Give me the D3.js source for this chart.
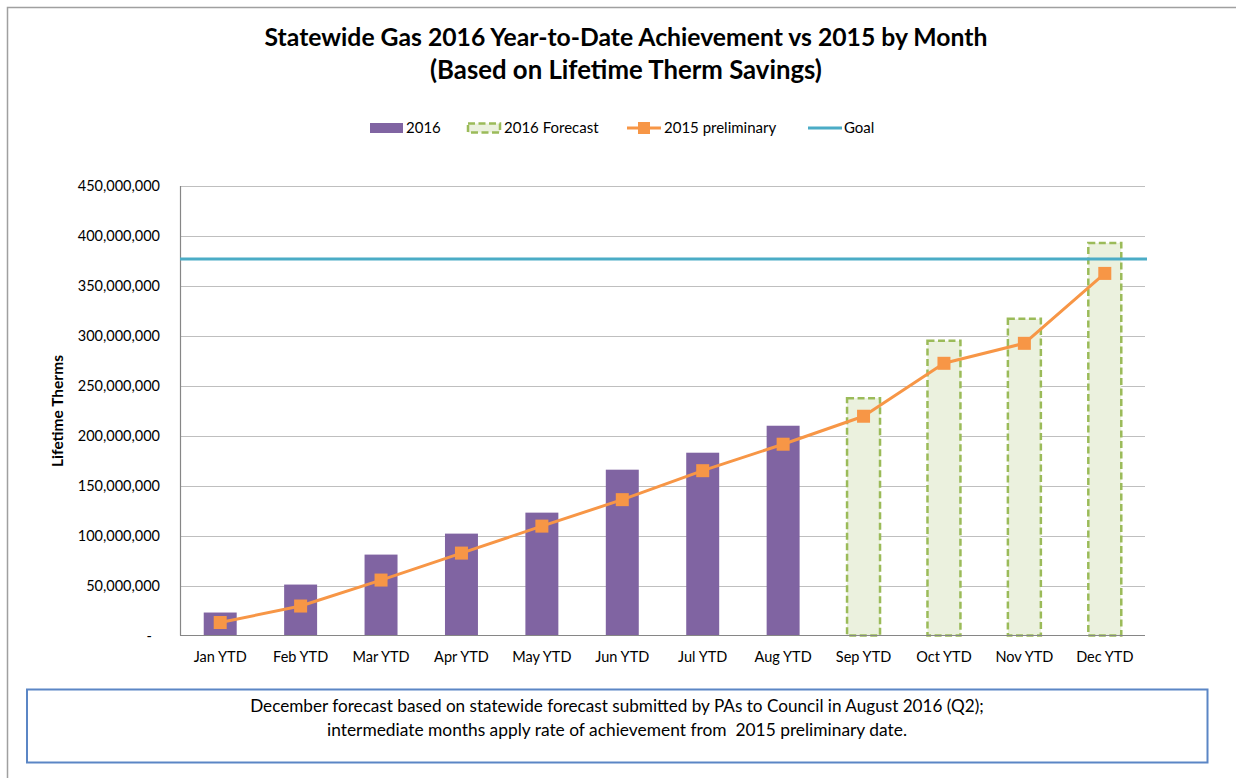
<!DOCTYPE html>
<html>
<head>
<meta charset="utf-8">
<script src="https://cdn.jsdelivr.net/npm/d3@7"></script>
<style>
  html, body { margin: 0; padding: 0; background: #fff; }
  svg { display: block; font-family: Lato, "Open Sans", sans-serif; }
  text { white-space: pre; }
</style>
</head>
<body>
<svg id="chart" width="1236" height="778"></svg>
<script>
// ---- data ----
const categories = ["Jan YTD","Feb YTD","Mar YTD","Apr YTD","May YTD","Jun YTD","Jul YTD","Aug YTD","Sep YTD","Oct YTD","Nov YTD","Dec YTD"];
const actual2016 = [23000000, 51000000, 81000000, 102000000, 123000000, 166000000, 183000000, 210000000, null, null, null, null];
const forecast2016 = [null, null, null, null, null, null, null, null, 237500000, 295000000, 317000000, 393000000];
const prelim2015 = [13000000, 29500000, 55500000, 82500000, 109500000, 136000000, 165000000, 191500000, 219500000, 272500000, 292500000, 362500000];
const goalValue = 377000000;
const yTicks = [0, 50000000, 100000000, 150000000, 200000000, 250000000, 300000000, 350000000, 400000000, 450000000];
const titleLines = ["Statewide Gas 2016 Year-to-Date Achievement vs 2015 by Month", "(Based on Lifetime Therm Savings)"];
const legendLabels = ["2016", "2016 Forecast", "2015 preliminary", "Goal"];
const yAxisTitle = "Lifetime Therms";
const footnoteLines = ["December forecast based on statewide forecast submitted by PAs to Council in August 2016 (Q2);", "intermediate months apply rate of achievement from  2015 preliminary date."];

// ---- styles ----
const C = { purple: "#8064A2", green: "#9BBB59", greenFill: "#EBF1DE", orange: "#F79646", goal: "#4BACC6", grid: "#BFBFBF", axis: "#868686", text: "#000" };

const svg = d3.select("#chart");
const plot = { left: 180, right: 1145, top: 186, bottom: 635.5 };

function fitWidth(sel, target) {
  const node = sel.node();
  const fs = parseFloat(sel.attr("font-size"));
  const w = node.getComputedTextLength();
  sel.attr("font-size", (fs * target / w).toFixed(2));
}

// outer frame (left & top)
svg.append("path").attr("d", "M7.5,778 V7.5 H1236").attr("fill", "none").attr("stroke", "#A0A0A0").attr("stroke-width", 1.5);

// title
const t1 = svg.append("text").attr("x", 626).attr("y", 46).attr("text-anchor", "middle").attr("font-weight", "bold").attr("font-size", 22).text(titleLines[0]);
fitWidth(t1, 723);
const t2 = svg.append("text").attr("x", 626).attr("y", 79).attr("text-anchor", "middle").attr("font-weight", "bold").attr("font-size", 22).text(titleLines[1]);
fitWidth(t2, 392);

// scales
const x = d3.scaleBand().domain(categories).range([plot.left, plot.right]).paddingInner(0.59).paddingOuter(0.295);
const y = d3.scaleLinear().domain([0, 450000000]).range([plot.bottom, plot.top]);

// gridlines
svg.append("g").selectAll("line").data(yTicks.slice(1)).join("line")
  .attr("x1", plot.left).attr("x2", plot.right)
  .attr("y1", d => Math.round(y(d)) + 0.5).attr("y2", d => Math.round(y(d)) + 0.5)
  .attr("stroke", C.grid).attr("stroke-width", 1.2);

// y axis
const yAxis = d3.axisLeft(y).tickValues(yTicks).tickSize(0).tickPadding(20)
  .tickFormat(d => d === 0 ? "-" : d3.format(",")(d));
const gy = svg.append("g").attr("transform", `translate(${plot.left},0)`).call(yAxis);
gy.select(".domain").remove();
gy.selectAll("text").attr("font-size", 14.5).attr("fill", C.text).attr("font-family", "Lato, sans-serif");
gy.selectAll(".tick").filter(d => d === 0).select("text").attr("dx", -8);

// x axis
const xAxis = d3.axisBottom(x).tickSize(0).tickPadding(16);
const gx = svg.append("g").attr("transform", `translate(0,${plot.bottom})`).call(xAxis);
gx.select(".domain").remove();
gx.selectAll("text").attr("font-size", 14.5).attr("fill", C.text).attr("font-family", "Lato, sans-serif");

// bars 2016
svg.append("g").selectAll("rect").data(categories.map((c, i) => ({c, v: actual2016[i]})).filter(d => d.v != null)).join("rect")
  .attr("x", d => x(d.c)).attr("width", x.bandwidth())
  .attr("y", d => y(d.v)).attr("height", d => y(0) - y(d.v))
  .attr("fill", C.purple);

// forecast bars
svg.append("g").selectAll("rect").data(categories.map((c, i) => ({c, v: forecast2016[i]})).filter(d => d.v != null)).join("rect")
  .attr("x", d => x(d.c)).attr("width", x.bandwidth())
  .attr("y", d => y(d.v)).attr("height", d => y(0) - y(d.v))
  .attr("fill", C.greenFill).attr("stroke", C.green).attr("stroke-width", 2.5).attr("stroke-dasharray", "7,3.5");

// axis lines
svg.append("line").attr("x1", plot.left + 0.5).attr("x2", plot.left + 0.5).attr("y1", plot.top).attr("y2", plot.bottom).attr("stroke", C.axis).attr("stroke-width", 1.2);
svg.append("line").attr("x1", plot.left).attr("x2", plot.right).attr("y1", plot.bottom).attr("y2", plot.bottom).attr("stroke", C.axis).attr("stroke-width", 1.2);

// goal line
svg.append("line").attr("x1", plot.left).attr("x2", plot.right + 2)
  .attr("y1", y(goalValue)).attr("y2", y(goalValue))
  .attr("stroke", C.goal).attr("stroke-width", 3);

// 2015 preliminary line
const cx = c => x(c) + x.bandwidth() / 2;
const line = d3.line().x((d, i) => cx(categories[i])).y(d => y(d));
svg.append("path").datum(prelim2015).attr("d", line).attr("fill", "none").attr("stroke", C.orange).attr("stroke-width", 3).attr("stroke-linejoin", "round");
svg.append("g").selectAll("rect").data(prelim2015).join("rect")
  .attr("x", (d, i) => cx(categories[i]) - 6.5).attr("y", d => y(d) - 6.5)
  .attr("width", 13).attr("height", 13).attr("fill", C.orange);

// y axis title
const yt = svg.append("text").attr("transform", "translate(63,411) rotate(-90)").attr("text-anchor", "middle")
  .attr("font-weight", "bold").attr("font-size", 13).text(yAxisTitle);
fitWidth(yt, 112);

// legend
const lg = svg.append("g").attr("font-size", 15);
const ly = 128;
// 2016
lg.append("rect").attr("x", 370).attr("y", ly - 5).attr("width", 33).attr("height", 10).attr("fill", C.purple);
lg.append("text").attr("x", 406).attr("y", ly + 5).text(legendLabels[0]);
// forecast
lg.append("rect").attr("x", 468).attr("y", ly - 4.5).attr("width", 32).attr("height", 9).attr("fill", C.greenFill).attr("stroke", C.green).attr("stroke-width", 2.5).attr("stroke-dasharray", "7,3.5");
lg.append("text").attr("x", 504).attr("y", ly + 5).text(legendLabels[1]);
// 2015 prelim
lg.append("line").attr("x1", 627).attr("x2", 661).attr("y1", ly).attr("y2", ly).attr("stroke", C.orange).attr("stroke-width", 3);
lg.append("rect").attr("x", 638).attr("y", ly - 6).attr("width", 12).attr("height", 12).attr("fill", C.orange);
lg.append("text").attr("x", 664).attr("y", ly + 5).text(legendLabels[2]);
// goal
lg.append("line").attr("x1", 808).attr("x2", 842).attr("y1", ly).attr("y2", ly).attr("stroke", C.goal).attr("stroke-width", 3);
lg.append("text").attr("x", 844).attr("y", ly + 5).text(legendLabels[3]);

// footnote box
svg.append("rect").attr("x", 27).attr("y", 689.5).attr("width", 1180.5).attr("height", 73).attr("fill", "#fff").attr("stroke", "#5B86C5").attr("stroke-width", 2);
const f1 = svg.append("text").attr("x", 617).attr("y", 712).attr("text-anchor", "middle").attr("font-size", 14.5).text(footnoteLines[0]);
fitWidth(f1, 734);
const f2 = svg.append("text").attr("x", 617).attr("y", 736).attr("text-anchor", "middle").attr("font-size", 14.5).text(footnoteLines[1]);
fitWidth(f2, 580);
</script>
</body>
</html>
